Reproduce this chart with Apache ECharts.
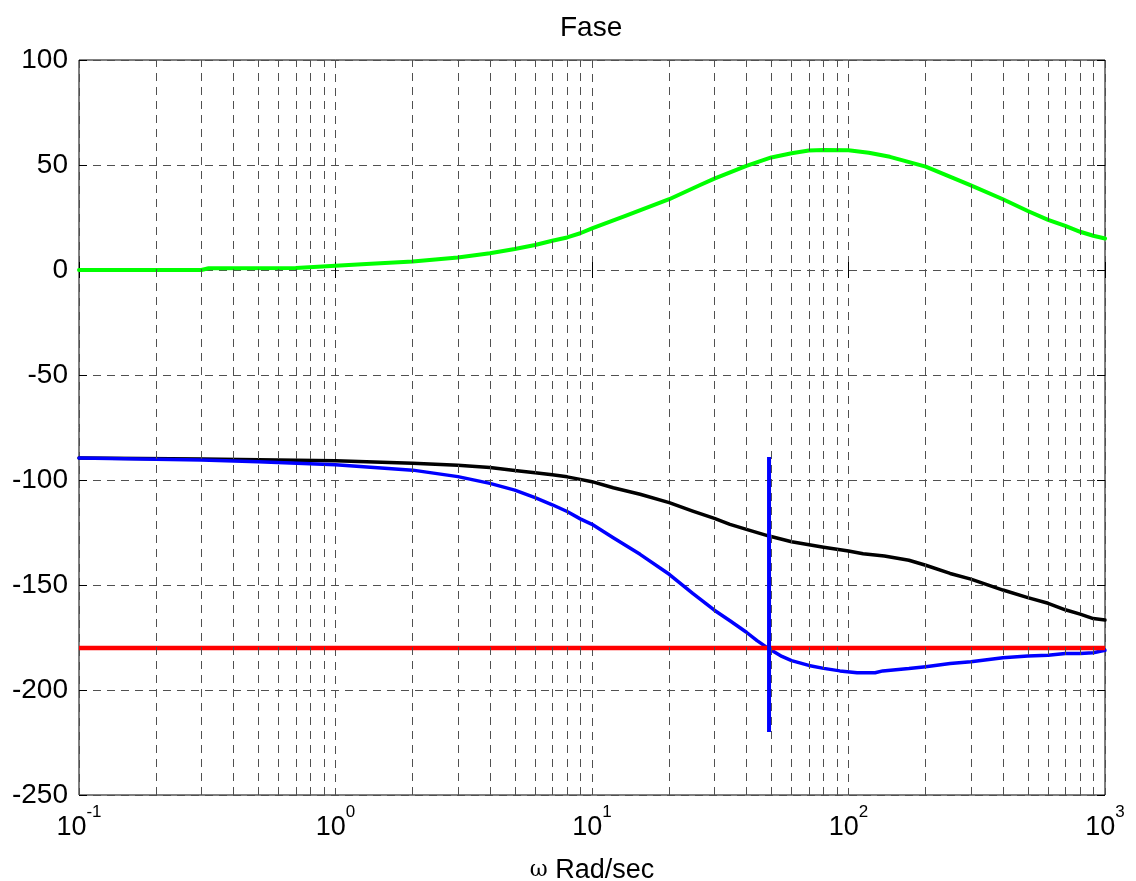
<!DOCTYPE html>
<html>
<head>
<meta charset="utf-8">
<title>Fase</title>
<script src="https://cdn.jsdelivr.net/npm/echarts@6/dist/echarts.min.js"></script>
<style>
  html, body { margin: 0; padding: 0; background: #fff; }
  #chart { width: 1136px; height: 881px; }
</style>
</head>
<body>
<div id="chart"></div>
<script>
// frecuencias (rad/s) y fases (grados)
const greenW = [0.1, 0.3, 0.32, 0.7, 1, 1.32, 2, 3, 4, 5, 6, 7, 8, 9, 10, 13.5, 20, 26.4, 30, 40, 50, 60, 70, 80, 100, 120, 145, 200, 300, 400, 500, 600, 700, 800, 900, 1000]
const greenPhase = [0, 0, 0.8, 0.9, 2, 2.8, 4, 6, 8, 10, 11.9, 13.9, 15.5, 17.5, 19.8, 25.8, 33.7, 40.5, 43.5, 49.6, 53.6, 55.6, 56.9, 57.2, 57, 55.8, 53.9, 49.2, 40.3, 33.7, 28.1, 23.9, 21, 18.2, 16.3, 15]

const blackW = [0.1, 0.3, 1, 2, 3, 4, 5, 6, 7, 8, 9, 10, 12.1, 15.4, 20, 24.7, 30, 34.5, 40, 49, 60, 80, 100, 114, 138, 172, 200, 249, 300, 400, 500, 600, 700, 800, 900, 1000]
const blackPhase = [-89.5, -90, -90.8, -92, -93, -94, -95.5, -96.5, -97.5, -98.5, -99.7, -100.8, -103.7, -106.8, -110.8, -114.8, -118.3, -121.1, -123.5, -126.7, -129.4, -132, -133.8, -135.1, -136.2, -138.2, -140.6, -144.5, -147.2, -152.4, -156, -158.7, -161.8, -163.9, -166, -166.7]

const blueW = [0.1, 0.3, 0.5, 1, 2, 3, 4, 5, 6, 7, 8, 9, 10, 12.1, 15.4, 20, 24.7, 30, 34.5, 40, 44, 49, 55, 60, 70, 80, 92.6, 108, 127, 136, 172, 200, 249, 300, 400, 500, 600, 700, 800, 900, 1000]
const bluePhase = [-89.5, -90.5, -91.3, -92.7, -95.3, -98.4, -101.6, -104.8, -108.4, -111.8, -115, -118.5, -121.1, -127.5, -135.4, -144.9, -154, -162, -167, -172.5, -176.5, -180.4, -184, -186, -188.3, -189.7, -190.9, -191.8, -191.8, -190.9, -189.8, -188.9, -187.4, -186.5, -184.6, -183.8, -183.5, -182.6, -182.6, -182.3, -181.1]

const limitW = [0.1, 1000]
const limitPhase = [-180, -180]

const crossW = [49, 49]
const crossPhase = [-89, -220]

const minorGrid = [0.2, 0.3, 0.4, 0.5, 0.6, 0.7, 0.8, 0.9, 2, 3, 4, 5, 6, 7, 8, 9, 20, 30, 40, 50, 60, 70, 80, 90, 200, 300, 400, 500, 600, 700, 800, 900]

const gridColor = '#505050'
const dash = [8, 6]
const font = 'Liberation Sans, Arial'

function pairs(xs, ys) {
	return xs.map((x, i) => [x, ys[i]])
}

function curve(xs, ys, color, width) {
	return {
		type: 'line',
		z: 3,
		data: pairs(xs, ys),
		showSymbol: false,
		lineStyle: { color: color, width: width, join: 'round', cap: 'round' },
		itemStyle: { color: color }
	}
}

const chart = echarts.init(document.getElementById('chart'))

const option = {
	animation: false,
	title: {
		text: 'Fase',
		left: 555,
		top: 9,
		textStyle: { fontFamily: font, fontSize: 28, fontWeight: 'normal', color: '#000' }
	},
	grid: {
		left: 79,
		right: 31,
		top: 60,
		bottom: 86,
		outerBoundsMode: 'none',
		show: true,
		borderColor: '#000',
		borderWidth: 1
	},
	xAxis: [
		{
			type: 'log',
			logBase: 10,
			min: 0.1,
			max: 1000,
			axisLine: { show: false },
			axisTick: { show: true, inside: true, length: 8, lineStyle: { color: '#000' } },
			splitLine: { show: true, lineStyle: { color: gridColor, type: dash, width: 1 } },
			axisLabel: {
				margin: 9,
				formatter: function (v) {
					const e = Math.round(Math.log10(v))
					return '{b|10}{s|' + e + '}'
				},
				rich: {
					b: { fontFamily: font, fontSize: 27, color: '#000' },
					s: { fontFamily: font, fontSize: 17, color: '#000', padding: [0, 0, 30, 0] }
				}
			},
			name: '{w|ω} Rad/sec',
			nameLocation: 'middle',
			nameGap: 62,
			nameTextStyle: {
				rich: {
					w: { fontFamily: 'DejaVu Serif, Liberation Serif', fontSize: 22, color: '#000' }
				},
				fontFamily: font,
				fontSize: 27,
				color: '#000'
			}
		},
		{
			type: 'log',
			logBase: 10,
			min: 0.1,
			max: 1000,
			position: 'top',
			axisLine: { show: false },
			axisTick: { show: true, inside: true, length: 8, lineStyle: { color: '#000' } },
			axisLabel: { show: false },
			splitLine: { show: false }
		}
	],
	yAxis: [
		{
			type: 'value',
			min: -250,
			max: 100,
			interval: 50,
			axisLine: { show: false },
			axisTick: { show: true, inside: true, length: 8, lineStyle: { color: '#000' } },
			splitLine: { show: true, lineStyle: { color: gridColor, type: dash, width: 1 } },
			axisLabel: { margin: 11, fontFamily: font, fontSize: 28, color: '#000' }
		},
		{
			type: 'value',
			min: -250,
			max: 100,
			interval: 50,
			position: 'right',
			axisLine: { show: false },
			axisTick: { show: true, inside: true, length: 8, lineStyle: { color: '#000' } },
			splitLine: { show: false },
			axisLabel: { show: false }
		}
	],
	series: [
		{
			// lineas menores de la rejilla logaritmica
			type: 'line',
			z: 1,
			data: [],
			silent: true,
			markLine: {
				silent: true,
				symbol: 'none',
				label: { show: false },
				lineStyle: { color: gridColor, type: dash, width: 1 },
				data: minorGrid.map(v => ({ xAxis: v }))
			}
		},
		curve(greenW, greenPhase, '#00ff00', 4),
		curve(blackW, blackPhase, '#000000', 3.5),
		curve(blueW, bluePhase, '#0000ff', 3.5),
		{
			type: 'line',
			z: 4,
			data: pairs(limitW, limitPhase),
			showSymbol: false,
			lineStyle: { color: '#ff0000', width: 4.5 },
			itemStyle: { color: '#ff0000' }
		},
		{
			type: 'line',
			z: 5,
			data: pairs(crossW, crossPhase),
			showSymbol: false,
			lineStyle: { color: '#0000ff', width: 4 },
			itemStyle: { color: '#0000ff' }
		}
	]
}

chart.setOption(option)
</script>
</body>
</html>
